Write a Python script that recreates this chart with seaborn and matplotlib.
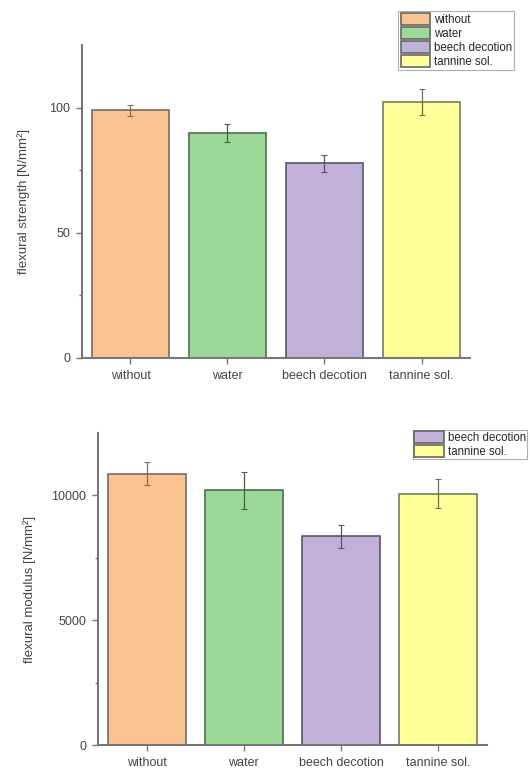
import matplotlib
matplotlib.use("Agg")
import matplotlib.pyplot as plt
import seaborn as sns
import pandas as pd
from matplotlib.patches import Patch

categories = ["without", "water", "beech decotion", "tannine sol."]
strength = [99.0, 90.0, 77.8, 102.3]
strength_err = [2.2, 3.6, 3.4, 5.2]
modulus = [10870, 10200, 8360, 10070]
modulus_err = [470, 730, 460, 580]

fills = ["#FAC392", "#9CD898", "#C1B1D8", "#FFFF99"]
edges = ["#7a6a5e", "#4e6e4e", "#5a5468", "#7a7a5a"]
errcols = ["#8a6a50", "#3e663e", "#5a5070", "#6e6e50"]

sns.set_style("white")
plt.rcParams['font.family'] = ['Liberation Sans', 'DejaVu Sans']

fig = plt.figure(figsize=(5.30, 7.73), dpi=100)
ax1 = fig.add_axes([0.1547, 0.5369, 0.7321, 0.4049])
ax2 = fig.add_axes([0.1849, 0.0362, 0.7340, 0.4036])

def draw(ax, vals, errs, ylabel, ymax, major, minor):
    df = pd.DataFrame({"cat": categories, "val": vals})
    sns.barplot(data=df, x="cat", y="val", hue="cat", palette=fills,
                order=categories, hue_order=categories, dodge=False,
                width=0.8, errorbar=None, legend=False, ax=ax,
                linewidth=1.2, saturation=1)
    for p, ec in zip(ax.patches, edges):
        p.set_edgecolor(ec)
    for i, (v, e, c) in enumerate(zip(vals, errs, errcols)):
        ax.errorbar(i, v, yerr=e, fmt="none", ecolor=c, elinewidth=0.9,
                    capsize=2, capthick=0.8)
    ax.set_xlim(-0.5, 3.5)
    ax.set_ylim(0, ymax)
    ax.set_yticks(major)
    ax.set_yticks(minor, minor=True)
    ax.set_xlabel("")
    ax.set_ylabel(ylabel, fontsize=9.5, color="#444444")
    for s in ["top", "right"]:
        ax.spines[s].set_visible(False)
    for s in ["left", "bottom"]:
        ax.spines[s].set_color("#777777")
        ax.spines[s].set_linewidth(1.5)
    ax.tick_params(axis="both", which="both", direction="out", colors="#777777",
                   labelcolor="#444444", labelsize=9)
    ax.tick_params(axis="both", which="major", length=4, width=1, left=True,
                   bottom=True, pad=4.5)
    ax.tick_params(axis="y", which="minor", length=2.5, width=1, left=True)

draw(ax1, strength, strength_err, "flexural strength [N/mm²]", 125,
     [0, 50, 100], [25, 75])
draw(ax2, modulus, modulus_err, "flexural modulus [N/mm²]", 12500,
     [0, 5000, 10000], [2500, 7500])

ax1.yaxis.set_label_coords(-0.135, 0.5)
ax2.yaxis.set_label_coords(-0.16, 0.5)

h1 = [Patch(facecolor=f, edgecolor="#666666", linewidth=1.2) for f in fills]
leg1 = ax1.legend(h1, categories, loc="upper left", bbox_to_anchor=(0.815, 1.11),
                  fontsize=8.3, frameon=True, fancybox=False, handlelength=2.6,
                  handleheight=1.25, borderpad=0.2, labelspacing=0.08,
                  handletextpad=0.3, borderaxespad=0)
leg1.get_frame().set_edgecolor("#999999")
leg1.get_frame().set_linewidth(0.8)

h2 = [Patch(facecolor=f, edgecolor="#666666", linewidth=1.2) for f in fills[2:]]
leg2 = ax2.legend(h2, categories[2:], loc="upper left", bbox_to_anchor=(0.81, 1.01),
                  fontsize=8.3, frameon=True, fancybox=False, handlelength=2.6,
                  handleheight=1.2, borderpad=0.1, labelspacing=0.08,
                  handletextpad=0.3, borderaxespad=0)
leg2.get_frame().set_edgecolor("#999999")
leg2.get_frame().set_linewidth(0.8)

fig.savefig("out.png", dpi=100)
